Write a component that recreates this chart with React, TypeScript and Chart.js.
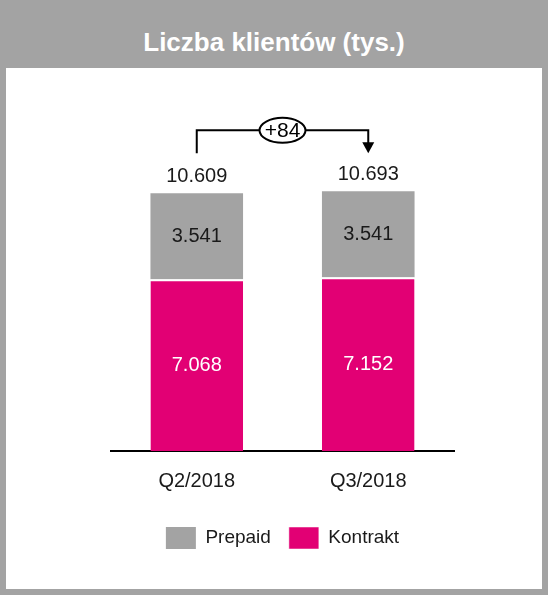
import { useEffect, useRef } from 'react';
import { Chart, registerables } from 'chart.js';

Chart.register(...registerables);

const FONT = '"Liberation Sans", Arial, sans-serif';

const categories = ['Q2/2018', 'Q3/2018'];
const prepaid = [3541, 3541];
const kontrakt = [7068, 7152];
const yMax = 14000;

const GRAY = '#a3a3a3';
const MAGENTA = '#e20074';
const TEXT = '#1a1a1a';

// 10609 -> "10.609"
function fmt(v: number) {
  return String(v).replace(/\B(?=(\d{3})+(?!\d))/g, '.');
}

const labelsPlugin = {
  id: 'barLabels',
  afterDatasetsDraw(chart: any) {
    const { ctx } = chart;
    const yScale = chart.scales.y;
    const totals = categories.map((_, i) => prepaid[i] + kontrakt[i]);

    ctx.save();
    ctx.textAlign = 'center';
    ctx.textBaseline = 'middle';
    ctx.font = `20px ${FONT}`;

    // values inside the segments
    chart.data.datasets.forEach((ds: any, di: number) => {
      const meta = chart.getDatasetMeta(di);
      meta.data.forEach((bar: any, j: number) => {
        const { x, y, base } = bar.getProps(['x', 'y', 'base'], true);
        ctx.fillStyle = di === 0 ? '#ffffff' : TEXT;
        ctx.fillText(fmt(ds.data[j]), x, (y + base) / 2);
      });
    });

    // totals above the bars
    const bars = chart.getDatasetMeta(1).data;
    const tops = totals.map(t => yScale.getPixelForValue(t));
    bars.forEach((bar: any, j: number) => {
      ctx.fillStyle = TEXT;
      ctx.fillText(fmt(totals[j]), bar.x, tops[j] - 17);
    });

    // bracket with the change
    const x0 = bars[0].x;
    const x1 = bars[1].x;
    const startY = tops[0] - 40;
    const lineY = tops[0] - 63;
    const tipY = tops[1] - 38;
    ctx.strokeStyle = '#000';
    ctx.lineWidth = 2;
    ctx.beginPath();
    ctx.moveTo(x0, startY);
    ctx.lineTo(x0, lineY);
    ctx.lineTo(x1, lineY);
    ctx.lineTo(x1, tipY - 10);
    ctx.stroke();
    ctx.fillStyle = '#000';
    ctx.beginPath();
    ctx.moveTo(x1 - 6, tipY - 11);
    ctx.lineTo(x1 + 6, tipY - 11);
    ctx.lineTo(x1, tipY);
    ctx.closePath();
    ctx.fill();

    const cx = (x0 + x1) / 2;
    ctx.beginPath();
    ctx.ellipse(cx, lineY, 23, 12.5, 0, 0, Math.PI * 2);
    ctx.fillStyle = '#fff';
    ctx.fill();
    ctx.stroke();
    const diff = totals[1] - totals[0];
    ctx.fillStyle = '#000';
    ctx.font = `21px ${FONT}`;
    ctx.fillText((diff >= 0 ? '+' : '') + fmt(diff), cx, lineY + 1);
    ctx.restore();
  },
};

export default function App() {
  const canvasRef = useRef<HTMLCanvasElement>(null);

  useEffect(() => {
    if (!canvasRef.current) return;
    const chart = new Chart(canvasRef.current, {
      type: 'bar',
      data: {
        labels: categories,
        datasets: [
          {
            label: 'Kontrakt',
            data: kontrakt,
            backgroundColor: MAGENTA,
            borderColor: '#ffffff',
            borderWidth: { top: 2, left: 0, right: 0, bottom: 0 },
            barPercentage: 0.54,
            categoryPercentage: 1,
          },
          {
            label: 'Prepaid',
            data: prepaid,
            backgroundColor: GRAY,
            borderWidth: 0,
            barPercentage: 0.54,
            categoryPercentage: 1,
          },
        ],
      },
      options: {
        responsive: true,
        maintainAspectRatio: false,
        animation: false,
        layout: { padding: { left: 105, right: 88, top: 43, bottom: 30 } },
        plugins: {
          legend: {
            position: 'bottom',
            reverse: true,
            labels: {
              boxWidth: 30,
              boxHeight: 22,
              padding: 18,
              color: TEXT,
              font: { family: FONT, size: 19 },
            },
          },
          tooltip: { enabled: false },
        },
        scales: {
          x: {
            stacked: true,
            grid: { display: false, drawTicks: false },
            border: { display: true, color: '#000', width: 2 },
            ticks: { color: TEXT, padding: 18, font: { family: FONT, size: 20 } },
            afterFit: (scale: any) => { scale.height -= 2; },
          },
          y: {
            stacked: true,
            display: false,
            min: 0,
            max: yMax,
          },
        },
      },
      plugins: [labelsPlugin],
    });
    return () => chart.destroy();
  }, []);

  return (
    <div style={{ position: 'absolute', left: 0, top: 0, width: 548, height: 595, background: GRAY, fontFamily: FONT }}>
      <div style={{ position: 'absolute', left: 0, top: 24, width: 548, height: 36, lineHeight: '36px', textAlign: 'center', color: '#fff', fontWeight: 'bold', fontSize: 26 }}>
        Liczba klientów (tys.)
      </div>
      <div style={{ position: 'absolute', left: 6, top: 68, width: 536, height: 521, background: '#fff' }}>
        <canvas ref={canvasRef} />
      </div>
    </div>
  );
}
